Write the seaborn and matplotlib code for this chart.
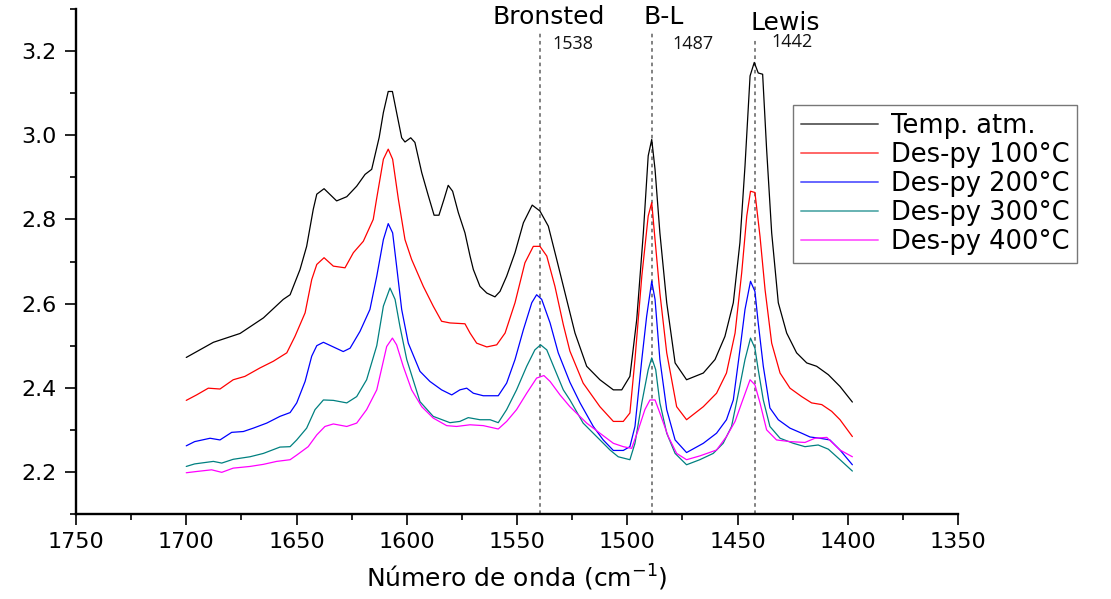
import numpy as np
import pandas as pd
import matplotlib
matplotlib.use("Agg")
import matplotlib.pyplot as plt
import seaborn as sns
from matplotlib.ticker import MultipleLocator, FormatStrFormatter

# ---------------- data ----------------
series_names = ["Temp. atm.", "Des-py 100°C", "Des-py 200°C", "Des-py 300°C", "Des-py 400°C"]

wn_atm = [1700, 1687.7, 1675.6, 1665, 1656, 1652.9, 1648.4, 1645.4, 1642.4, 1640.8, 1637.5, 1631.8, 1627.2,
          1622.7, 1618.9, 1615.9, 1612.5, 1610.6, 1608.4, 1606.5, 1604.6, 1602.3, 1600.8, 1598.2, 1596.3,
          1593.2, 1590.2, 1587.6, 1585.4, 1583.1, 1581.2, 1579.2, 1576.6, 1573.6, 1571.3, 1569.8, 1566.8,
          1563.7, 1560, 1557.7, 1554.7, 1550.9, 1547.1, 1543.1, 1539.6, 1535.8, 1532, 1527.5, 1523.7,
          1518.4, 1512.4, 1506.3, 1502.5, 1498.8, 1495.7, 1492.7, 1490.5, 1488.9, 1487.4, 1485.2, 1482.1,
          1478.3, 1473.1, 1465.5, 1460.2, 1455.7, 1451.9, 1448.9, 1446.6, 1444.3, 1442.4, 1440.6, 1438.6,
          1436.8, 1434.5, 1431.5, 1427.7, 1423.2, 1418.6, 1414.1, 1408.8, 1403.5, 1397.9]
ab_atm = [2.472, 2.508, 2.529, 2.566, 2.61, 2.621, 2.681, 2.736, 2.824, 2.86, 2.873, 2.844, 2.854,
          2.879, 2.907, 2.919, 2.995, 3.054, 3.104, 3.104, 3.054, 2.994, 2.984, 2.994, 2.983,
          2.911, 2.856, 2.81, 2.81, 2.848, 2.881, 2.867, 2.816, 2.768, 2.713, 2.681, 2.641,
          2.625, 2.616, 2.629, 2.665, 2.721, 2.792, 2.834, 2.82, 2.784, 2.705, 2.61, 2.53,
          2.451, 2.419, 2.395, 2.395, 2.427, 2.562, 2.768, 2.951, 2.99, 2.919, 2.768, 2.602,
          2.459, 2.419, 2.435, 2.467, 2.522, 2.602, 2.745, 2.927, 3.141, 3.173, 3.148, 3.145,
          2.967, 2.768, 2.602, 2.53, 2.483, 2.459, 2.451, 2.431, 2.403, 2.366]

wn_100 = [1700, 1695.3, 1690, 1684.7, 1678.7, 1673.4, 1666.6, 1660.5, 1654.4, 1650.7, 1646.1, 1643.1, 1640.8,
          1637.5, 1633.3, 1628, 1624.2, 1619.7, 1615.2, 1613.7, 1610.6, 1608.4, 1606.4, 1603.8, 1600.8,
          1597.8, 1592.5, 1588, 1584.2, 1580.4, 1573.6, 1571.3, 1568.3, 1563.7, 1559.2, 1555.4, 1550.9,
          1546.4, 1542.6, 1539.6, 1536.5, 1532.8, 1529, 1526, 1520, 1512.4, 1506.3, 1501.8, 1498.8,
          1496.5, 1493.4, 1490.5, 1488.9, 1487.4, 1485.2, 1482.1, 1477.6, 1473.1, 1465.5, 1459.5, 1455,
          1451.1, 1448.1, 1445.8, 1444.1, 1442.1, 1439.8, 1437.5, 1434.5, 1430.7, 1426.2, 1420.9, 1416.4,
          1411.8, 1407.3, 1403.5, 1397.9]
ab_100 = [2.37, 2.383, 2.399, 2.397, 2.419, 2.427, 2.447, 2.463, 2.483, 2.522, 2.578, 2.657, 2.693,
          2.709, 2.689, 2.685, 2.721, 2.748, 2.8, 2.848, 2.943, 2.967, 2.943, 2.848, 2.752,
          2.705, 2.641, 2.594, 2.558, 2.554, 2.552, 2.53, 2.506, 2.497, 2.502, 2.53, 2.602,
          2.697, 2.736, 2.736, 2.713, 2.641, 2.55, 2.487, 2.411, 2.355, 2.32, 2.32, 2.34,
          2.467, 2.665, 2.808, 2.84, 2.752, 2.625, 2.483, 2.355, 2.324, 2.355, 2.387, 2.435,
          2.53, 2.673, 2.808, 2.867, 2.864, 2.76, 2.633, 2.506, 2.435, 2.399, 2.379, 2.364,
          2.36, 2.344, 2.324, 2.284]

wn_200 = [1700, 1696.2, 1689.2, 1684.7, 1679.4, 1674.1, 1669.6, 1663.5, 1657.5, 1652.9, 1649.9, 1646.1, 1643.1,
          1640.8, 1637.8, 1633.3, 1628.8, 1625.7, 1621.2, 1616.7, 1613.6, 1610.6, 1608.4, 1606.4, 1604.6,
          1602.3, 1599.3, 1594, 1589.5, 1584.2, 1579.6, 1575.9, 1572.8, 1569.8, 1565.3, 1558.5, 1554.7,
          1550.9, 1547.1, 1543.3, 1541.1, 1538.8, 1535, 1531.3, 1526, 1521.4, 1515.4, 1510.9, 1506.3,
          1501.8, 1498.8, 1496.5, 1493.4, 1491.2, 1488.9, 1487.4, 1485.2, 1482.1, 1478.3, 1473.1, 1465.5,
          1459.5, 1455, 1451.9, 1448.9, 1446.6, 1444.1, 1442.1, 1440.6, 1438.3, 1435.3, 1431.5, 1426.2,
          1420.9, 1417.1, 1412.6, 1408.1, 1403.5, 1397.9]
ab_200 = [2.262, 2.272, 2.28, 2.276, 2.294, 2.296, 2.304, 2.316, 2.332, 2.341, 2.364, 2.415, 2.475,
          2.5, 2.508, 2.497, 2.486, 2.494, 2.534, 2.586, 2.665, 2.752, 2.79, 2.768, 2.689,
          2.586, 2.506, 2.439, 2.415, 2.395, 2.383, 2.395, 2.399, 2.387, 2.381, 2.381, 2.411,
          2.467, 2.538, 2.602, 2.621, 2.61, 2.554, 2.483, 2.413, 2.364, 2.308, 2.276, 2.251,
          2.251, 2.26, 2.308, 2.467, 2.57, 2.653, 2.61, 2.467, 2.348, 2.276, 2.246, 2.268,
          2.292, 2.324, 2.371, 2.49, 2.586, 2.653, 2.629, 2.554, 2.451, 2.352, 2.324, 2.304,
          2.292, 2.283, 2.28, 2.276, 2.252, 2.217]

wn_300 = [1700, 1696.2, 1687.7, 1683.9, 1678.7, 1671.1, 1665, 1657.5, 1652.9, 1649.9, 1645.4, 1641.6, 1637.8,
          1633.3, 1627.2, 1622.7, 1618.2, 1613.6, 1610.6, 1607.6, 1605.3, 1603.1, 1600, 1594, 1588,
          1580.4, 1575.9, 1572.1, 1566.8, 1562.2, 1558.5, 1554.7, 1550.2, 1545.6, 1541.9, 1539.3, 1536.5,
          1532.8, 1529, 1526, 1520, 1513.9, 1507.8, 1504.1, 1498.8, 1496.5, 1493.4, 1490.5, 1488.9,
          1487.1, 1485.2, 1482.1, 1478.3, 1473.1, 1467.1, 1461, 1456.5, 1452.7, 1449.6, 1446.6, 1444.1,
          1442.1, 1440.6, 1438.3, 1435.3, 1430.7, 1424.7, 1419.4, 1413.4, 1408.8, 1403.5, 1397.9]
ab_300 = [2.213, 2.219, 2.225, 2.221, 2.23, 2.236, 2.244, 2.259, 2.26, 2.276, 2.304, 2.348, 2.371,
          2.37, 2.364, 2.379, 2.419, 2.5, 2.594, 2.637, 2.61, 2.546, 2.467, 2.367, 2.332,
          2.317, 2.32, 2.329, 2.324, 2.324, 2.317, 2.348, 2.395, 2.451, 2.49, 2.502, 2.49,
          2.443, 2.395, 2.371, 2.316, 2.284, 2.252, 2.236, 2.229, 2.268, 2.364, 2.443, 2.471,
          2.443, 2.364, 2.292, 2.244, 2.217, 2.229, 2.244, 2.268, 2.308, 2.387, 2.467, 2.518,
          2.494, 2.443, 2.371, 2.308, 2.28, 2.268, 2.26, 2.264, 2.254, 2.229, 2.202]

wn_400 = [1700, 1695.3, 1688.5, 1683.9, 1678.7, 1671.1, 1665, 1659, 1652.9, 1649.9, 1644.7, 1640.8, 1637.1,
          1633.3, 1627.2, 1622.7, 1618.2, 1613.6, 1609.1, 1606.5, 1604.6, 1601.6, 1597.8, 1593.2, 1588,
          1581.9, 1577.4, 1571.3, 1565.3, 1558.5, 1554.7, 1550.2, 1545.6, 1541.1, 1537.8, 1535, 1530.5,
          1526, 1518.4, 1512.4, 1506.3, 1501.8, 1498, 1495, 1492, 1489.7, 1487.4, 1485.2, 1481.4,
          1477.6, 1473.1, 1467.1, 1459.5, 1455, 1451.1, 1448.1, 1444.3, 1442.1, 1439.8, 1436.8, 1432.3,
          1426.2, 1419.4, 1414.9, 1409.5, 1403.5, 1397.9]
ab_400 = [2.198, 2.201, 2.205, 2.199, 2.209, 2.213, 2.218, 2.225, 2.229, 2.24, 2.26, 2.288, 2.308,
          2.314, 2.308, 2.316, 2.348, 2.395, 2.498, 2.518, 2.502, 2.451, 2.395, 2.355, 2.328,
          2.31, 2.308, 2.312, 2.31, 2.302, 2.32, 2.348, 2.387, 2.423, 2.429, 2.415, 2.383,
          2.355, 2.316, 2.292, 2.268, 2.26, 2.256, 2.3, 2.348, 2.371, 2.371, 2.34, 2.284,
          2.244, 2.229, 2.238, 2.252, 2.284, 2.32, 2.364, 2.419, 2.407, 2.364, 2.3, 2.276,
          2.272, 2.27, 2.28, 2.282, 2.252, 2.236]

band_names = ["Bronsted", "B-L", "Lewis"]
band_positions = [1539.6, 1488.8, 1442.1]
band_labels = ["1538", "1487", "1442"]

x_ticks = [1750, 1700, 1650, 1600, 1550, 1500, 1450, 1400, 1350]
y_ticks = [2.2, 2.4, 2.6, 2.8, 3.0, 3.2]

# ---------------- build long-form table ----------------
all_wn = [wn_atm, wn_100, wn_200, wn_300, wn_400]
all_ab = [ab_atm, ab_100, ab_200, ab_300, ab_400]
frames = []
for name, wn, ab in zip(series_names, all_wn, all_ab):
    frames.append(pd.DataFrame({"wn": wn, "ab": ab, "serie": name}))
df = pd.concat(frames, ignore_index=True)

colors = ["#000000", "#ff0000", "#0000ff", "#008080", "#ff00ff"]
palette = dict(zip(series_names, colors))

# ---------------- plot ----------------
sns.set_theme(style="ticks")
plt.rcParams["font.family"] = ["DejaVu Sans"]
plt.rcParams["text.color"] = "black"
plt.rcParams["axes.labelcolor"] = "black"
plt.rcParams["xtick.color"] = "black"
plt.rcParams["ytick.color"] = "black"

fig = plt.figure(figsize=(11.11, 5.99), dpi=100)
ax = fig.add_axes([76 / 1111, 1 - 514 / 599, (958 - 76) / 1111, (514 - 9) / 599])

sns.lineplot(data=df, x="wn", y="ab", hue="serie", palette=palette, hue_order=series_names,
             sort=False, estimator=None, linewidth=0.9, ax=ax)

ax.set_xlim(1750, 1350)
ax.set_ylim(2.1, 3.3)
ax.set_xticks(x_ticks)
ax.set_yticks(y_ticks)
ax.xaxis.set_minor_locator(MultipleLocator(25))
ax.yaxis.set_minor_locator(MultipleLocator(0.1))
ax.yaxis.set_major_formatter(FormatStrFormatter("%.1f"))

for side in ["top", "right"]:
    ax.spines[side].set_visible(False)
for side in ["left", "bottom"]:
    ax.spines[side].set_linewidth(1.7)
    ax.spines[side].set_color("black")

ax.tick_params(axis="both", which="major", direction="out", length=8, width=1.2,
               colors="black", labelsize=16, pad=5)
ax.tick_params(axis="both", which="minor", direction="out", length=4, width=1.2, colors="black")
ax.tick_params(axis="y", which="major", pad=6)

ax.set_xlabel("Número de onda (cm$^{-1}$)", fontsize=18, labelpad=8, color="black")
ax.set_ylabel("")

# band markers
tops = [3.243, 3.243, 3.229]
for pos, top in zip(band_positions, tops):
    ax.vlines(pos, 2.1, top, colors="#777777", linestyles=(0, (2, 2)), linewidth=1.3, zorder=1)

name_pos = [(1535.5, 3.281), (1483.3, 3.281), (1428.5, 3.267)]
for txt, (px, py) in zip(band_names, name_pos):
    ax.text(px, py, txt, ha="center", va="center", fontsize=18, color="black", clip_on=False)

num_pos = [(1524.6, 3.217), (1470.2, 3.217), (1425.3, 3.221)]
for txt, (px, py) in zip(band_labels, num_pos):
    ax.text(px, py, txt, ha="center", va="center", fontsize=13, color="#111111",
            family=["Open Sans", "DejaVu Sans"])

# legend
handles, labels = ax.get_legend_handles_labels()
if ax.get_legend() is not None:
    ax.get_legend().remove()
leg = ax.legend(handles, labels, loc="upper left", bbox_to_anchor=(793 / 1111, 1 - 105 / 599),
                bbox_transform=fig.transFigure, borderaxespad=0, fontsize=18.5, frameon=True,
                fancybox=False, edgecolor="#555555", handlelength=3.0, handletextpad=0.5,
                labelspacing=0.12, borderpad=0.3)
leg.get_frame().set_linewidth(1.0)
for t in leg.get_texts():
    t.set_color("black")
for h in leg.get_lines():
    h.set_linewidth(1.4)
    h.set_alpha(0.6)

fig.savefig("out.png", dpi=100, facecolor="white")
